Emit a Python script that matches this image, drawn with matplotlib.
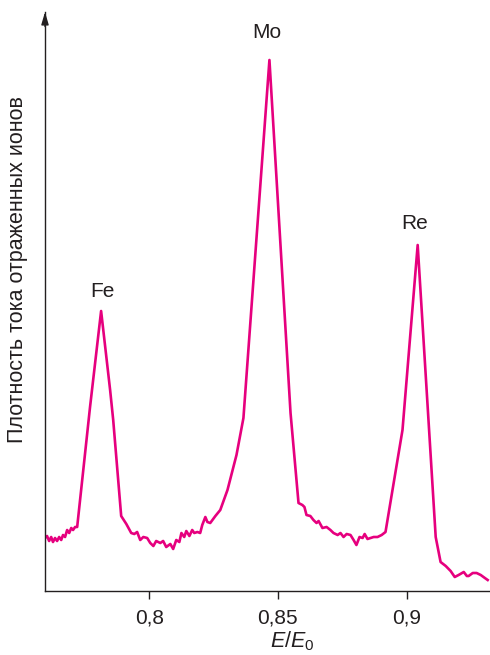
import matplotlib
matplotlib.use("Agg")
import matplotlib.pyplot as plt

plt.rcParams["font.family"] = ["Liberation Sans", "DejaVu Sans"]
plt.rcParams["mathtext.fontset"] = "custom"
plt.rcParams["mathtext.rm"] = "Liberation Sans"
plt.rcParams["mathtext.it"] = "Liberation Sans:italic"

# E/E0
energy = [
    0.7595, 0.7603, 0.7611, 0.7619, 0.7626, 0.7634, 0.7642, 0.7650, 0.7658,
    0.7665, 0.7673, 0.7681, 0.7689, 0.7697, 0.7704, 0.7712, 0.7720,
    0.7770, 0.7813, 0.7848, 0.7860, 0.7891, 0.7911, 0.7930, 0.7942, 0.7953,
    0.7965, 0.7977, 0.7992, 0.8004, 0.8016, 0.8027, 0.8043, 0.8054, 0.8066,
    0.8082, 0.8093, 0.8105, 0.8117, 0.8125, 0.8136, 0.8144, 0.8156, 0.8167,
    0.8175, 0.8187, 0.8198, 0.8206, 0.8218, 0.8226, 0.8237, 0.8257, 0.8276,
    0.8304, 0.8339, 0.8366, 0.8467,
    0.8549, 0.8580, 0.8595, 0.8603, 0.8611, 0.8626, 0.8638, 0.8650, 0.8658,
    0.8673, 0.8689, 0.8704, 0.8716, 0.8732, 0.8743, 0.8755, 0.8767, 0.8782,
    0.8794, 0.8805, 0.8817, 0.8829, 0.8837, 0.8848, 0.8860, 0.8872, 0.8887,
    0.8903, 0.8918,
    0.8984, 0.9043, 0.9113, 0.9132, 0.9152, 0.9171, 0.9187, 0.9202, 0.9222,
    0.9234, 0.9241, 0.9257, 0.9272, 0.9288, 0.9304, 0.9315,
]

# ion current density, arbitrary units
current = [
    53, 55, 50, 54, 49, 53, 50, 54, 51,
    56, 54, 61, 58, 63, 61, 64, 64,
    184, 280, 201, 171, 75, 67, 58, 57, 59,
    51, 54, 53, 48, 45, 50, 48, 50, 44,
    47, 42, 51, 49, 58, 54, 60, 55, 61,
    58, 59, 58, 66, 74, 69, 68, 75, 81,
    101, 136, 173, 531,
    178, 88, 86, 84, 76, 75, 71, 68, 70,
    63, 64, 61, 58, 56, 58, 54, 57, 56,
    51, 46, 54, 53, 57, 52, 53, 54, 54,
    56, 59,
    161, 346, 54, 29, 25, 20, 14, 16, 19,
    15, 15, 18, 18, 16, 13, 11,
]

peak_names = ["Fe", "Mo", "Re"]
peak_x = [0.7818, 0.8458, 0.9030]
peak_y = [290, 549, 358]

tick_pos = [0.80, 0.85, 0.90]
tick_text = ["0,8", "0,85", "0,9"]

ink = "#231f20"

fig = plt.figure(figsize=(4.9, 6.55), dpi=100)
ax = fig.add_axes([45 / 490, 64 / 655, 445 / 490, 579 / 655])

ax.plot(energy, current, color="#e6007e", lw=1.9, solid_joinstyle="round")

ax.set_xlim(0.7595, 0.9324)
ax.set_ylim(0, 579)

for name, px, py in zip(peak_names, peak_x, peak_y):
    ax.text(px, py, name, ha="center", va="bottom", fontsize=15, color=ink)

ax.spines["top"].set_visible(False)
ax.spines["right"].set_visible(False)
for s in ("left", "bottom"):
    ax.spines[s].set_linewidth(1.0)
    ax.spines[s].set_color(ink)

ax.set_yticks([])
ax.set_xticks(tick_pos)
ax.set_xticklabels(tick_text)
ax.tick_params(axis="x", direction="out", length=6, width=1, colors=ink,
               labelsize=15, pad=6.5)

# arrow head on the y axis
ax.annotate("", xy=(0, 1.0), xytext=(0, 0.975), xycoords="axes fraction",
            arrowprops=dict(arrowstyle="-|>,head_length=0.75,head_width=0.22",
                            color=ink, lw=1.0, shrinkA=0, shrinkB=0),
            annotation_clip=False)

fig.text(18 / 490, 1 - 270 / 655, "Плотность тока отраженных ионов",
         rotation=90, ha="center", va="center", fontsize=15.5, color=ink)
fig.text(292 / 490, 1 - 641 / 655, r"$E/E_0$", ha="center", va="center",
         fontsize=15.5, color=ink)

fig.savefig("out.png", dpi=100)
